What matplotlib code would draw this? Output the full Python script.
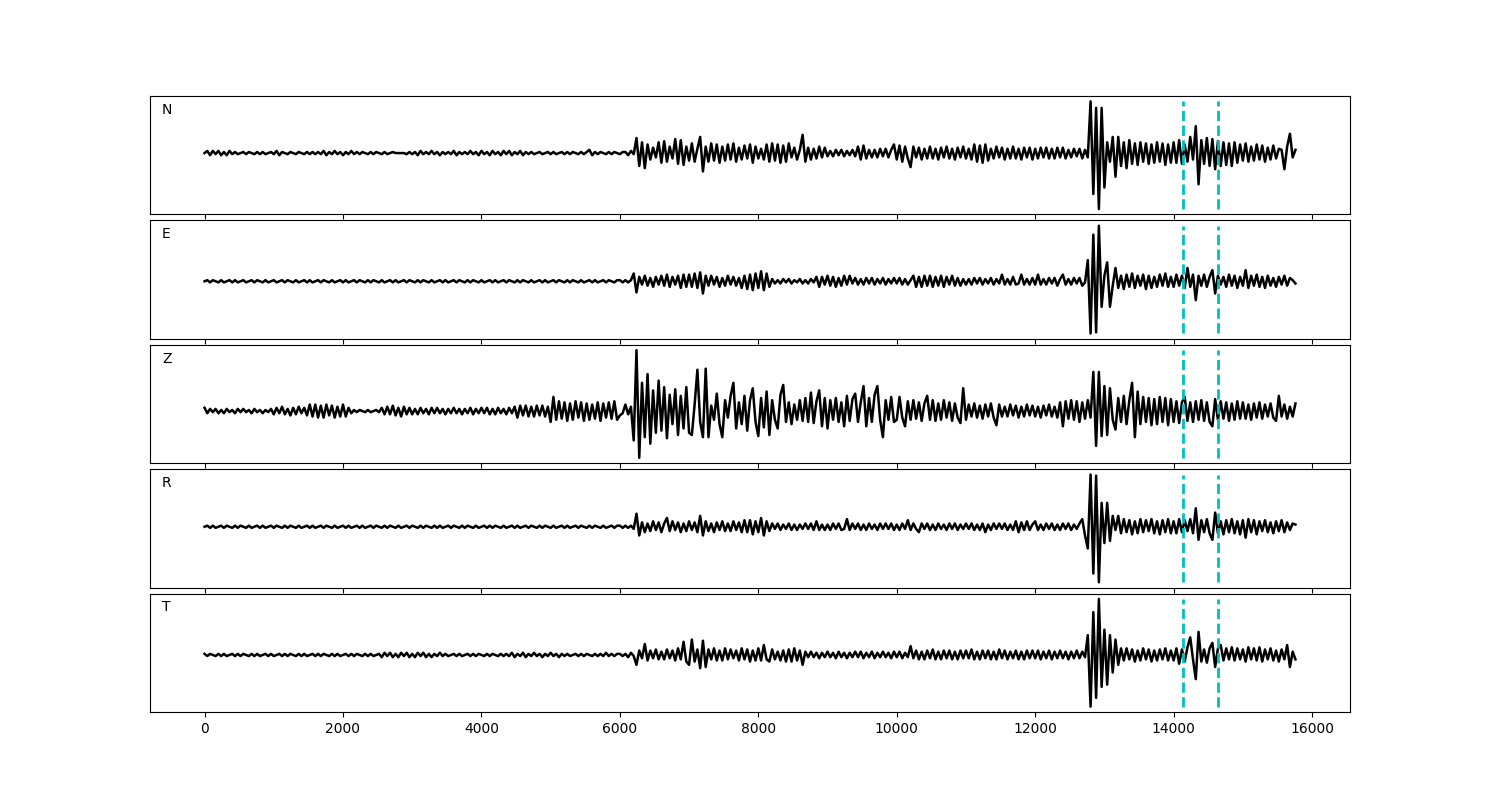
import numpy as np
import matplotlib.pyplot as plt

# traces, one value every `step` samples
step = 40
channels = ['N', 'E', 'Z', 'R', 'T']
picks = [14140, 14645]

n_trace = [
    0, 2, -2, 2, -1, 2, -2, 1, -2, 2, -1, 1, -1, 0, 1, -1, 1, 0, -1, 1, -1, 1, -1, 0, 1,
    -1, 2, -2, 1, 0, -1, 1, 0, -1, 1, 0, -1, 1, -1, 1, -1, 1, -1, 2, -2, 1, -1, 2, -1, 1,
    -2, 1, -1, 2, -1, 1, -1, 1, 0, -1, 1, -1, 1, 0, -1, 1, -1, 0, 1, 0, 0, 0, 0, -1, 1,
    -1, 1, -2, 2, -1, 1, -1, 2, -1, 1, -2, 1, -1, 1, -1, 2, -2, 1, -1, 1, -1, 2, -1, 1, -2,
    2, -1, 1, -2, 2, -1, 1, -2, 2, -1, 2, -2, 1, -1, 2, -2, 1, -1, 1, -1, 0, 1, -1, 0, 1,
    -1, 1, -1, 0, 1, -1, 1, -1, 1, 0, -1, 1, -1, 1, 3, -2, 1, -1, 1, 0, -1, 1, -1, 1, 0,
    -1, 1, 1, -2, 2, -1, 14, -12, 10, -14, 8, -6, 5, -4, 10, -9, 11, -8, 6, -5, 13, -10, 12, -11, 6,
    -7, 9, -8, 4, 15, -17, 6, -8, 9, -7, 8, -9, 6, -7, 8, -6, 9, -8, 5, -6, 7, -5, 8, -9, 6,
    -5, 4, -6, 8, -8, 9, -7, 8, -9, 7, -8, 9, -4, 5, -6, 3, 17, -8, 5, -6, 4, -5, 6, -4, 5,
    -3, 2, -3, 3, -2, 3, -3, 2, -2, 3, -3, 6, -6, 7, -5, 3, -4, 3, -4, 4, -3, 4, -4, 3, 8,
    -6, 7, -8, 6, -5, -13, 6, -4, 5, -6, 4, -5, 6, -5, 4, -6, 5, -4, 6, -5, 4, -6, 5, -4, 6,
    -5, 4, -6, 8, -8, 7, -9, 8, -7, 4, -5, 6, -4, 5, -6, 4, -5, 6, -5, 4, -6, 5, -4, 5, -6,
    4, -5, 5, -4, 5, -5, 4, -5, 5, -4, 5, -5, 3, -4, 4, -3, 4, -5, 3, -4, 48, -38, 42, -52, 42,
    -32, 10, -8, 15, -22, 15, -12, 10, -14, 12, -10, 9, -11, 10, -8, 9, -10, 8, -9, 10, -8, 9, -11, 8, -9,
    10, -9, 12, -10, 8, -8, 15, -6, 25, -29, 12, -10, 14, -12, 13, -15, 11, -12, 10, -11, 9, -12, 10, -9, 8,
    -7, 9, -8, 6, -7, 8, -6, 7, -8, 5, -6, 7, -5, 4, 3, -15, 6, 18, -4, 3,
]

e_trace = [
    0, 1, -1, 1, 0, -1, 1, -1, 0, 1, -1, 1, -1, 0, 1, -1, 0, 1, -1, 1, 0, -1, 1, -1, 0,
    1, -1, 0, 1, -1, 1, 0, -1, 1, -1, 0, 1, -1, 1, -1, 0, 1, -1, 1, 0, -1, 1, -1, 0, 1,
    -1, 1, -1, 0, 1, -1, 1, 0, -1, 1, -1, 1, 0, -1, 1, -1, 0, 1, -1, 1, -1, 0, 1, -1, 1,
    0, -1, 1, -1, 1, 0, -1, 1, -1, 0, 1, -1, 1, -1, 0, 1, -1, 1, 0, -1, 1, -1, 1, 0, -1,
    1, -1, 0, 1, -1, 1, -1, 0, 1, -1, 1, 0, -1, 1, -1, 1, 0, -1, 1, -1, 0, 1, -1, 1, -1,
    0, 1, -1, 1, 0, -1, 1, -1, 1, 0, -1, 1, -1, 0, 1, -1, 1, -1, 0, 1, -1, 1, 0, -1, 1,
    1, -1, 1, -1, 1, 7, -10, 4, -3, 5, -4, 3, -5, 4, -3, 5, -4, 6, -5, 4, -3, 5, -6, 6, -5,
    6, -5, 7, -6, 8, -11, 5, -4, 5, -3, 4, -5, 3, -4, 5, -3, 4, -4, 3, -6, 5, -7, 6, -8, 7,
    -6, 9, -8, 7, -5, 2, -2, 1, -2, 2, -1, 2, -2, 1, -1, 2, -2, 1, -2, 2, -1, 4, -5, 4, -3,
    5, -4, 4, -5, 3, -4, 5, -3, 5, -2, 3, -3, 2, -3, 3, -2, 3, -3, 2, -2, 3, -3, 2, -2, 3,
    -2, 3, -3, 2, -3, 1, 5, -5, 4, -5, 5, -4, 5, -5, 4, -4, 5, -5, 4, -3, 5, -4, 3, -4, 2,
    -3, 2, -3, 3, -2, 3, -3, 2, -2, 3, -3, 2, -2, 6, -3, 2, -3, 4, -3, -2, 6, -3, 2, -3, 3,
    -3, 6, -3, 2, -3, 3, -2, 3, -4, 2, 6, -3, 2, -3, 3, -2, 3, -4, -1, 19, -47, 42, -46, 50, -23,
    5, 17, -23, -4, 12, -6, 5, -7, 6, -5, 7, -6, 5, -4, 6, -7, 5, -6, 4, -5, 6, -4, 7, -5, 4,
    -5, 6, -4, 5, -6, 12, -5, 6, -17, 5, -4, 6, -5, 4, 10, -11, 5, -3, 4, -5, 6, -4, 5, -6, 4,
    -4, 10, -6, 5, -4, 6, -5, 4, -6, 5, -4, 3, -5, 4, -3, 5, -4, 3, 1, -2,
]

z_trace = [
    3, -2, 2, -1, 2, -2, 1, -2, 2, -1, 1, -2, 2, -1, 2, -1, 1, -2, 2, -1, 1, -2, 1, -1, 2,
    -3, 3, -2, 4, -3, 2, -4, 3, -3, 4, -2, 3, -4, 6, -5, 6, -6, 5, -6, 6, -4, 5, -6, 4, -5,
    6, -5, 3, -2, 1, -1, 1, 0, -1, 1, -1, 0, 1, -1, 3, -3, 4, -3, 5, -4, 3, -5, 4, -3, 3,
    -3, 2, -3, 3, -2, 2, -3, 3, -2, 3, -2, 2, -3, 2, -2, 3, -2, 2, -3, 2, -2, 3, -3, 2, -2,
    3, -2, 3, -3, 2, -3, 3, -2, 2, -3, 3, -2, 4, -6, 5, -4, 5, -5, 4, -5, 5, -4, 5, -5, 4,
    -10, 13, -8, 9, -7, 8, -9, 7, -8, 9, -6, 8, -9, 7, -8, 6, -7, 8, -9, 7, -6, 8, -7, 9, -8,
    -4, -2, 6, -3, 4, -27, 56, -43, 26, -24, 34, -30, 19, -20, 28, -18, 22, -25, 15, -12, 20, -22, 14, -16, 22,
    -20, -22, 6, 38, -10, -24, 39, -24, 5, -8, 16, -12, -24, 10, -6, 14, 26, -16, 8, -12, 14, -18, 10, 21, -10,
    -23, 12, -15, 18, -22, 10, -8, -16, 15, 24, -10, 8, -12, 6, -8, 10, -9, 12, -10, 17, -11, 9, 19, -14, 12,
    -16, 10, -8, 12, -10, 8, -14, 14, -9, 11, 16, -10, 8, 23, -14, 12, -10, 15, 23, -8, -24, 10, -8, 13, -10,
    -8, 13, -6, -14, 9, -8, 10, -7, 8, -9, 7, 14, -8, 10, -9, 7, -8, 10, -6, 8, -9, 7, -6, -11, 21,
    -8, 6, -5, 7, -6, 5, -7, 6, -5, 7, -6, -13, 6, -5, 4, -5, 6, -4, 5, -6, 4, -5, 6, -4, 5,
    -5, 4, -6, 5, -4, 6, -5, 4, -6, 8, -14, 9, -7, 10, -8, 9, -10, 8, -7, 10, -6, 36, -32, 36, -23,
    23, -22, 21, -8, -17, 12, -10, 14, -12, 10, 26, -24, 18, -12, 13, -10, 12, -13, 11, -12, 13, -10, 12, -13, 11,
    -10, 9, -11, 8, 13, -9, 8, -10, 9, -8, 10, -9, 8, -10, -14, 11, -8, 9, -7, 8, -9, 7, -8, 9, -7,
    8, -7, 6, -8, 7, -6, 8, -7, 6, -5, 7, -6, -9, 14, -5, 6, -7, 4, -5, 7,
]

r_trace = [
    0, 1, -1, 1, -1, 0, 1, -1, 1, 0, -1, 1, -1, 1, 0, -1, 1, -1, 0, 1, -1, 1, -1, 0, 1,
    -1, 1, 0, -1, 1, -1, 1, 0, -1, 1, -1, 0, 1, -1, 1, -1, 0, 1, -1, 1, 0, -1, 1, -1, 0,
    1, -1, 1, -1, 0, 1, -1, 1, -1, 0, 1, -1, 1, 0, -1, 1, -1, 1, 0, -1, 1, -1, 0, 1, -1,
    1, 0, -1, 1, -1, 1, 0, -1, 1, -1, 1, -1, 0, 1, -1, 1, 0, -1, 1, -1, 1, 0, -1, 1, -1,
    0, 1, -1, 1, -1, 1, 0, -1, 1, -1, 0, 1, -1, 1, -1, 0, 1, -1, 1, 0, -1, 1, -1, 1, 0,
    -1, 1, -1, 0, 1, -1, 1, -1, 0, 1, -1, 1, 0, -1, 1, -1, 1, 0, -1, 1, -1, 0, 1, -1, 1,
    1, -1, 1, -1, 1, -2, 12, -8, 4, -5, 3, -4, 5, -3, 4, -5, 3, 8, -4, 5, -3, 4, -5, 3, -4,
    5, -3, 4, -5, 10, -8, 5, -4, 3, -5, 4, -3, 5, -4, 3, -4, 5, -3, 4, -5, 6, -5, 6, -7, 5,
    -5, 8, -8, 5, -4, 3, -2, 3, -3, 2, -2, 3, -3, 2, -3, 2, -2, 3, -2, 3, -3, 5, -3, 2, -3,
    2, -3, 3, -2, 3, -3, -2, 7, -3, 3, -2, 3, -3, 2, -3, 3, -2, 2, -3, 3, -2, 3, -2, 3, -3,
    2, -3, 3, -2, 6, -3, 3, -2, -5, 3, -2, 3, -3, 2, -3, 3, -2, 2, -3, 3, -2, 3, -3, 2, -2,
    3, -2, 3, -3, 2, -3, 3, -5, 2, -3, 3, -2, 3, -2, 3, -3, 2, -3, 5, -5, 4, -3, 5, -3, 2,
    5, -3, 2, -3, 3, -2, 3, -3, 2, -3, 3, -2, 3, -3, 2, -2, 3, 7, -8, -20, 48, -43, 47, -51, 22,
    -15, 22, -13, 10, -3, 10, -6, 7, -5, 6, -7, 5, -6, 7, -5, 6, -4, 7, -6, 5, -7, 6, -5, 7, -6,
    5, -6, 7, -5, 6, -4, 7, -6, 17, -12, 6, -5, 7, -6, -12, 13, -6, 5, -7, 6, -5, 7, -6, 5, -7,
    6, -10, 7, -5, 6, -7, 5, -4, 6, -5, 4, -6, 5, -4, 6, -5, 4, -3, 3, 2,
]

t_trace = [
    1, -1, 1, 0, -1, 1, -1, 1, -1, 0, 1, -1, 1, -1, 1, 0, -1, 1, -1, 1, -1, 0, 1, -1, 1,
    -1, 0, 1, -1, 1, -1, 1, 0, -1, 1, -1, 1, -1, 0, 1, -1, 1, -1, 1, 0, -1, 1, -1, 1, -1,
    0, 1, -1, 1, -1, 1, 0, -1, 1, -1, 1, -1, 0, 1, -2, 2, -1, 2, -2, 1, -2, 2, -1, 2, -2,
    1, -2, 2, -1, 2, -2, 1, -2, 1, -1, 2, -1, 1, -1, 0, 1, -1, 1, -1, 0, 1, -1, 1, -1, 1,
    0, -1, 1, -1, 1, 0, -1, 1, -1, 1, -1, 2, -2, 1, -1, 2, -2, 1, -1, 2, -1, 1, -2, 1, -1,
    2, -1, 1, -2, 1, -1, 1, -1, 0, 1, -1, 1, -1, 1, 0, -1, 1, -1, 1, -1, 2, -1, 1, -1, 1,
    1, -1, 1, -2, 2, -1, -9, 4, -3, 10, -5, 4, -3, 5, -4, 3, -4, 5, -3, 4, -5, 6, -4, 12, -6,
    -9, 14, -6, 5, -12, 13, -11, 5, -4, 6, -5, 4, -5, 6, -4, 5, -3, 4, -5, 6, -4, 5, -6, 4, -5,
    6, -5, 9, -4, -6, 5, -4, 3, -5, 4, -6, 5, -6, 6, -5, 4, -9, 3, -2, 3, -2, 2, -3, 2, -2,
    3, -2, 2, -3, 3, -2, 2, -3, 2, -2, 3, -2, 3, -3, 2, -2, 3, -3, 2, -2, 3, -2, 2, -3, 3,
    -2, 3, -3, 2, -2, 8, -3, 4, -4, 3, -4, 4, -3, 5, -4, 3, -4, 4, -3, 4, -4, 3, -4, 4, -3,
    4, -3, 5, -4, 3, -4, 4, -3, 4, -4, 3, -4, 5, -3, 4, -4, 3, -3, 4, -4, 3, -4, 4, -3, 4,
    -3, 4, -4, 3, -3, 4, -4, 3, -3, 4, -3, 3, -4, 3, -3, 4, -3, 3, -2, 18, -47, 39, -39, 51, -29,
    23, -27, 18, -16, 14, -9, 6, -5, 6, -4, 5, -6, 4, -5, 6, -4, 5, -6, 4, -5, 5, -4, 6, -5, 4,
    -5, 6, -8, 5, -6, 7, 16, -4, -22, 21, -6, 5, -7, 6, 11, -11, 6, 9, -5, 6, -4, 7, -5, 6, -4,
    5, -6, 7, -4, 6, -5, 7, -6, 5, -4, 6, -5, 4, -6, 5, -4, 9, -11, 3, -4,
]

traces = [n_trace, e_trace, z_trace, r_trace, t_trace]

fig, axes = plt.subplots(5, 1, figsize=(15, 8), sharex=True)
plt.subplots_adjust(left=0.1, right=0.9, top=0.88, bottom=0.11, hspace=0.05)

for ax, name, tr in zip(axes, channels, traces):
    x = np.arange(len(tr)) * step
    ax.plot(x, tr, color='k', lw=1.8)
    ax.vlines(picks, min(tr), max(tr), colors='c', linestyles='--', lw=2)
    ax.text(0.01, 0.85, name, transform=ax.transAxes)
    ax.set_yticks([])

plt.savefig('out.png', dpi=100)
